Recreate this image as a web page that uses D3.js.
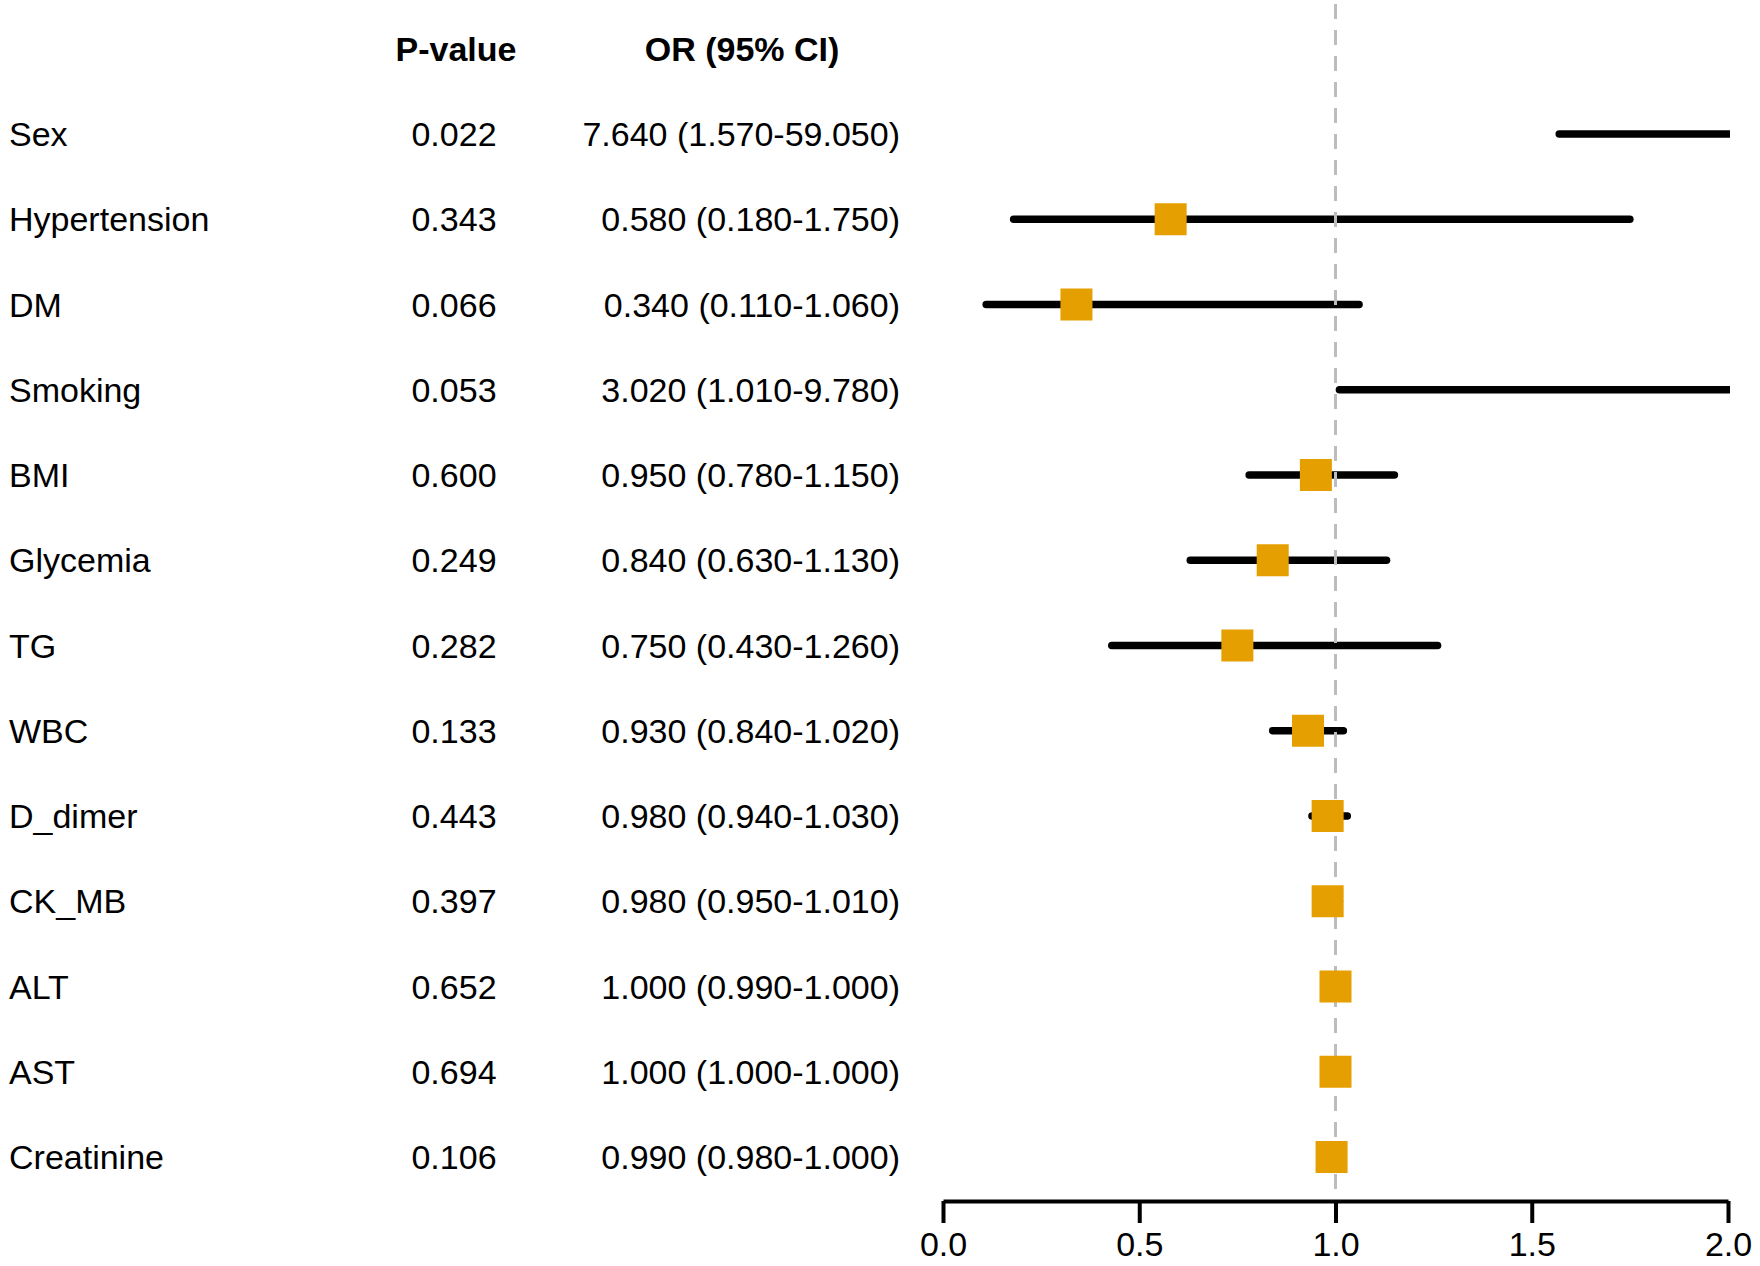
<!DOCTYPE html>
<html>
<head>
<meta charset="utf-8">
<script src="https://cdn.jsdelivr.net/npm/d3@7/dist/d3.min.js"></script>
<style>
  html, body { margin: 0; padding: 0; background: #fff; }
  svg { display: block; font-family: "Liberation Sans", Arial, Helvetica, sans-serif; }
</style>
</head>
<body>
<svg id="chart" width="1760" height="1266"></svg>
<script>
// ---- data ----
const variables = ["Sex","Hypertension","DM","Smoking","BMI","Glycemia","TG","WBC","D_dimer","CK_MB","ALT","AST","Creatinine"];
const pValues   = [0.022,0.343,0.066,0.053,0.600,0.249,0.282,0.133,0.443,0.397,0.652,0.694,0.106];
const orValues  = [7.640,0.580,0.340,3.020,0.950,0.840,0.750,0.930,0.980,0.980,1.000,1.000,0.990];
const ciLower   = [1.570,0.180,0.110,1.010,0.780,0.630,0.430,0.840,0.940,0.950,0.990,1.000,0.980];
const ciUpper   = [59.050,1.750,1.060,9.780,1.150,1.130,1.260,1.020,1.030,1.010,1.000,1.000,1.000];
const xTicks    = [0.0,0.5,1.0,1.5,2.0];
const headers   = ["P-value","OR (95% CI)"];

const rows = variables.map((v,i)=>({name:v,p:pValues[i],or:orValues[i],lo:ciLower[i],hi:ciUpper[i]}));

const svg = d3.select("#chart");
const W = 1760, H = 1266;
svg.append("rect").attr("width",W).attr("height",H).attr("fill","#fff");

const x = d3.scaleLinear().domain([0,2]).range([943,1728]);
const y = d3.scalePoint().domain(variables).range([134,1157]);
const axisY = 1201;
const fs = 34;
const f3 = d3.format(".3f");

// clip for CI lines at the axis range
svg.append("defs").append("clipPath").attr("id","plotclip")
  .append("rect").attr("x",x(0)-10).attr("y",0).attr("width",x(2)-x(0)+12).attr("height",H);

// headers
svg.append("text").attr("x",456).attr("y",49).attr("dy","0.358em")
  .attr("text-anchor","middle").attr("font-weight","bold").attr("font-size",fs).text(headers[0]);
svg.append("text").attr("x",742).attr("y",49).attr("dy","0.358em")
  .attr("text-anchor","middle").attr("font-weight","bold").attr("font-size",fs).text(headers[1]);

// row labels
svg.append("g").selectAll("text").data(rows).join("text")
  .attr("x",9).attr("y",d=>y(d.name)).attr("dy","0.358em")
  .attr("font-size",fs).attr("fill","#000").text(d=>d.name);

// p-values
svg.append("g").selectAll("text").data(rows).join("text")
  .attr("x",454).attr("y",d=>y(d.name)).attr("dy","0.358em")
  .attr("text-anchor","middle").attr("font-size",fs).text(d=>f3(d.p));

// OR (CI)
svg.append("g").selectAll("text").data(rows).join("text")
  .attr("x",900).attr("y",d=>y(d.name)).attr("dy","0.358em")
  .attr("text-anchor","end").attr("font-size",fs)
  .text(d=>`${f3(d.or)} (${f3(d.lo)}-${f3(d.hi)})`);

// CI lines (clipped to axis range)
const [dMin,dMax] = x.domain();
svg.append("g").attr("clip-path","url(#plotclip)")
  .selectAll("line").data(rows.filter(d=>d.hi>d.lo)).join("line")
  .attr("x1",d=>x(Math.max(d.lo,dMin)))
  .attr("x2",d=>d.hi>dMax ? x(dMax)+10 : x(d.hi))
  .attr("y1",d=>y(d.name)).attr("y2",d=>y(d.name))
  .attr("stroke","#000").attr("stroke-width",7.5).attr("stroke-linecap","round");

// reference line at 1
svg.append("line")
  .attr("x1",x(1)).attr("x2",x(1)).attr("y1",4).attr("y2",axisY)
  .attr("stroke","#bdbdbd").attr("stroke-width",3).attr("stroke-dasharray","15,11");

// squares
const sq = 32;
svg.append("g").selectAll("rect").data(rows.filter(d=>d.or>=dMin && d.or<=dMax)).join("rect")
  .attr("x",d=>x(d.or)-sq/2).attr("y",d=>y(d.name)-sq/2)
  .attr("width",sq).attr("height",sq).attr("fill","#E69F00");

// x axis
const axis = d3.axisBottom(x).tickValues(xTicks).tickFormat(d3.format(".1f"))
  .tickSize(22).tickSizeOuter(0).tickPadding(9);
const gAxis = svg.append("g").attr("transform",`translate(0,${axisY})`).call(axis);
gAxis.select(".domain").attr("stroke","#000").attr("stroke-width",4);
gAxis.selectAll(".tick line").attr("stroke","#000").attr("stroke-width",4);
gAxis.selectAll(".tick text").attr("font-size",fs).attr("fill","#000")
  .attr("font-family","'Liberation Sans', Arial, Helvetica, sans-serif");
</script>
</body>
</html>
